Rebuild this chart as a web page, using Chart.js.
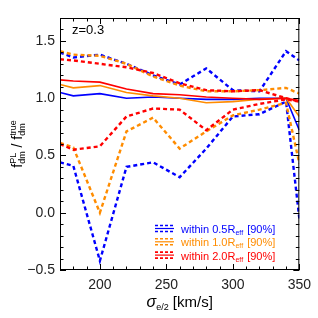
<!DOCTYPE html>
<html>
<head>
<meta charset="utf-8">
<script src="https://cdn.jsdelivr.net/npm/chart.js@4"></script>
<style>
  html, body { margin: 0; padding: 0; background: #fff; }
  #wrap { width: 318px; height: 318px; }
</style>
</head>
<body>
<div id="wrap"><canvas id="chart" width="318" height="318"></canvas></div>
<script>
const sigma = [170, 180, 200, 220, 240, 260, 280, 300, 320, 340, 350];

const blueSolid = [1.05, 1.02, 1.04, 1.0, 1.01, 1.0, 0.99, 0.99, 1.0, 1.0, 0.72];
const blueHigh = [1.40, 1.355, 1.38, 1.30, 1.20, 1.12, 1.26, 1.07, 1.06, 1.41, 1.33];
const blueLow = [0.44, 0.41, -0.42, 0.40, 0.44, 0.31, 0.56, 0.84, 0.86, 0.97, -0.05];

const orangeSolid = [1.12, 1.09, 1.11, 1.05, 1.02, 1.0, 0.96, 0.97, 0.99, 1.0, 0.84];
const orangeHigh = [1.41, 1.38, 1.37, 1.30, 1.19, 1.11, 1.06, 1.06, 1.07, 1.09, 1.04];
const orangeLow = [0.61, 0.57, 0.0, 0.71, 0.83, 0.56, 0.71, 0.85, 0.90, 0.96, 0.43];

const redSolid = [1.16, 1.15, 1.14, 1.08, 1.04, 1.03, 1.01, 1.0, 0.99, 1.0, 0.98];
const redHigh = [1.34, 1.33, 1.30, 1.27, 1.22, 1.13, 1.07, 1.06, 1.07, 1.0, 0.97];
const redLow = [0.60, 0.55, 0.58, 0.84, 0.91, 0.90, 0.72, 0.90, 0.95, 0.99, 0.97];

const xTicks = [200, 250, 300, 350];
const yTicks = [-0.5, 0.0, 0.5, 1.0, 1.5];
const legendLabels = ["0.5", "1.0", "2.0"];

const BLUE = "#0000ff";
const ORANGE = "#ff8c00";
const RED = "#ff0000";
const colors = [BLUE, ORANGE, RED];

const pts = (arr) => arr.map((v, i) => ({ x: sigma[i], y: v }));

const datasets = [];
const addSet = (arr, color, dashed) => {
  datasets.push({
    data: pts(arr),
    borderColor: color,
    borderWidth: dashed ? 2.4 : 1.6,
    borderDash: dashed ? [4, 3] : [],
    pointRadius: 0,
    fill: false,
    tension: 0,
  });
};
addSet(redHigh, RED, true);
addSet(redLow, RED, true);
addSet(orangeHigh, ORANGE, true);
addSet(orangeLow, ORANGE, true);
addSet(blueHigh, BLUE, true);
addSet(blueLow, BLUE, true);
addSet(redSolid, RED, false);
addSet(orangeSolid, ORANGE, false);
addSet(blueSolid, BLUE, false);

const FONT = "'Liberation Sans', Arial, sans-serif";

// frame, inward ticks, titles, legend
const decorations = {
  id: "decorations",
  afterDraw(chart) {
    const ctx = chart.ctx;
    const a = chart.chartArea;
    const xs = chart.scales.x;
    const ys = chart.scales.y;
    ctx.save();
    ctx.strokeStyle = "#000";
    ctx.lineWidth = 1;
    ctx.strokeRect(a.left + 0.5, a.top + 0.5, a.right - a.left - 1, a.bottom - a.top - 1);

    ctx.beginPath();
    for (let v = 170; v <= 350; v += 10) {
      const px = Math.round(xs.getPixelForValue(v)) + 0.5;
      const len = v % 50 === 0 ? 6 : 3.5;
      ctx.moveTo(px, a.bottom);
      ctx.lineTo(px, a.bottom - len);
      ctx.moveTo(px, a.top);
      ctx.lineTo(px, a.top + len);
    }
    for (let i = -5; i <= 17; i++) {
      const v = i / 10;
      const py = Math.round(ys.getPixelForValue(v)) + 0.5;
      const len = i % 5 === 0 ? 6 : 3.5;
      ctx.moveTo(a.left, py);
      ctx.lineTo(a.left + len, py);
      ctx.moveTo(a.right, py);
      ctx.lineTo(a.right - len, py);
    }
    ctx.stroke();

    // z label
    ctx.fillStyle = "#000";
    ctx.font = "13px " + FONT;
    ctx.textBaseline = "alphabetic";
    ctx.textAlign = "left";
    ctx.fillText("z=0.3", 72, 34);

    // x title
    const cx = (a.left + a.right) / 2;
    const by = 307;
    ctx.font = "italic 16px " + FONT;
    const wSig = ctx.measureText("\u03c3").width;
    ctx.font = "9px " + FONT;
    const wSub = ctx.measureText("e/2").width;
    ctx.font = "15px " + FONT;
    const wRest = ctx.measureText(" [km/s]").width;
    let x0 = cx - (wSig + wSub + wRest) / 2;
    ctx.font = "italic 16px " + FONT;
    ctx.fillText("\u03c3", x0, by);
    ctx.font = "9px " + FONT;
    ctx.fillText("e/2", x0 + wSig, by + 3);
    ctx.font = "15px " + FONT;
    ctx.fillText(" [km/s]", x0 + wSig + wSub, by);

    // y title (rotated)
    ctx.save();
    ctx.translate(22, (a.top + a.bottom) / 2);
    ctx.rotate(-Math.PI / 2);
    const parts = [
      { t: "f", sup: "PL", sub: "dm" },
      { t: " / " },
      { t: "f", sup: "true", sub: "dm" },
    ];
    const mainF = "14px " + FONT;
    const smallF = "9px " + FONT;
    let total = 0;
    const widths = parts.map((p) => {
      ctx.font = mainF;
      let w = ctx.measureText(p.t).width;
      if (p.sup) {
        ctx.font = smallF;
        w += Math.max(ctx.measureText(p.sup).width, ctx.measureText(p.sub).width);
      }
      total += w;
      return w;
    });
    let px = -total / 2;
    parts.forEach((p, i) => {
      ctx.font = mainF;
      ctx.fillText(p.t, px, 0);
      if (p.sup) {
        const wt = ctx.measureText(p.t).width;
        ctx.font = smallF;
        ctx.fillText(p.sup, px + wt, -6);
        ctx.fillText(p.sub, px + wt, 3);
      }
      px += widths[i];
    });
    ctx.restore();

    // legend
    const rowY = [229, 242.3, 255.6];
    legendLabels.forEach((lab, i) => {
      const y = rowY[i];
      const c = colors[i];
      ctx.strokeStyle = c;
      ctx.lineWidth = 1.6;
      ctx.setLineDash([3, 2]);
      ctx.beginPath();
      ctx.moveTo(155, y - 3.5);
      ctx.lineTo(174, y - 3.5);
      ctx.moveTo(155, y + 2.5);
      ctx.lineTo(174, y + 2.5);
      ctx.stroke();
      ctx.setLineDash([]);
      ctx.lineWidth = 1.2;
      ctx.beginPath();
      ctx.moveTo(155, y - 0.5);
      ctx.lineTo(174, y - 0.5);
      ctx.stroke();

      ctx.fillStyle = c;
      ctx.font = "11px " + FONT;
      const base = y + 4;
      let tx = 181;
      const s1 = "within " + lab + "R";
      ctx.fillText(s1, tx, base);
      tx += ctx.measureText(s1).width;
      ctx.font = "7px " + FONT;
      ctx.fillText("eff", tx, base + 2);
      tx += ctx.measureText("eff").width;
      ctx.font = "11px " + FONT;
      ctx.fillText(" [90%]", tx + 1, base);
    });
    ctx.restore();
  },
};

new Chart(document.getElementById("chart"), {
  type: "line",
  data: { datasets },
  options: {
    responsive: false,
    animation: false,
    events: [],
    layout: { padding: { left: 0, right: 16, top: 18, bottom: 0 } },
    plugins: {
      legend: { display: false },
      tooltip: { enabled: false },
    },
    scales: {
      x: {
        type: "linear",
        min: 170,
        max: 350,
        grid: { display: false, drawTicks: false },
        border: { display: false },
        afterBuildTicks: (s) => { s.ticks = xTicks.map((v) => ({ value: v })); },
        afterFit: (s) => { s.height = 48; },
        ticks: {
          padding: 7,
          color: "#222",
          maxRotation: 0,
          autoSkip: false,
          font: { family: FONT, size: 14 },
          callback: (v) => String(v),
        },
      },
      y: {
        type: "linear",
        min: -0.5,
        max: 1.7,
        grid: { display: false, drawTicks: false },
        border: { display: false },
        afterBuildTicks: (s) => { s.ticks = yTicks.map((v) => ({ value: v })); },
        afterFit: (s) => { s.width = 60; },
        ticks: {
          padding: 5,
          color: "#222",
          autoSkip: false,
          font: { family: FONT, size: 14 },
          callback: (v) => (v < 0 ? "\u2212" : "") + Math.abs(v).toFixed(1),
        },
      },
    },
  },
  plugins: [decorations],
});
</script>
</body>
</html>
